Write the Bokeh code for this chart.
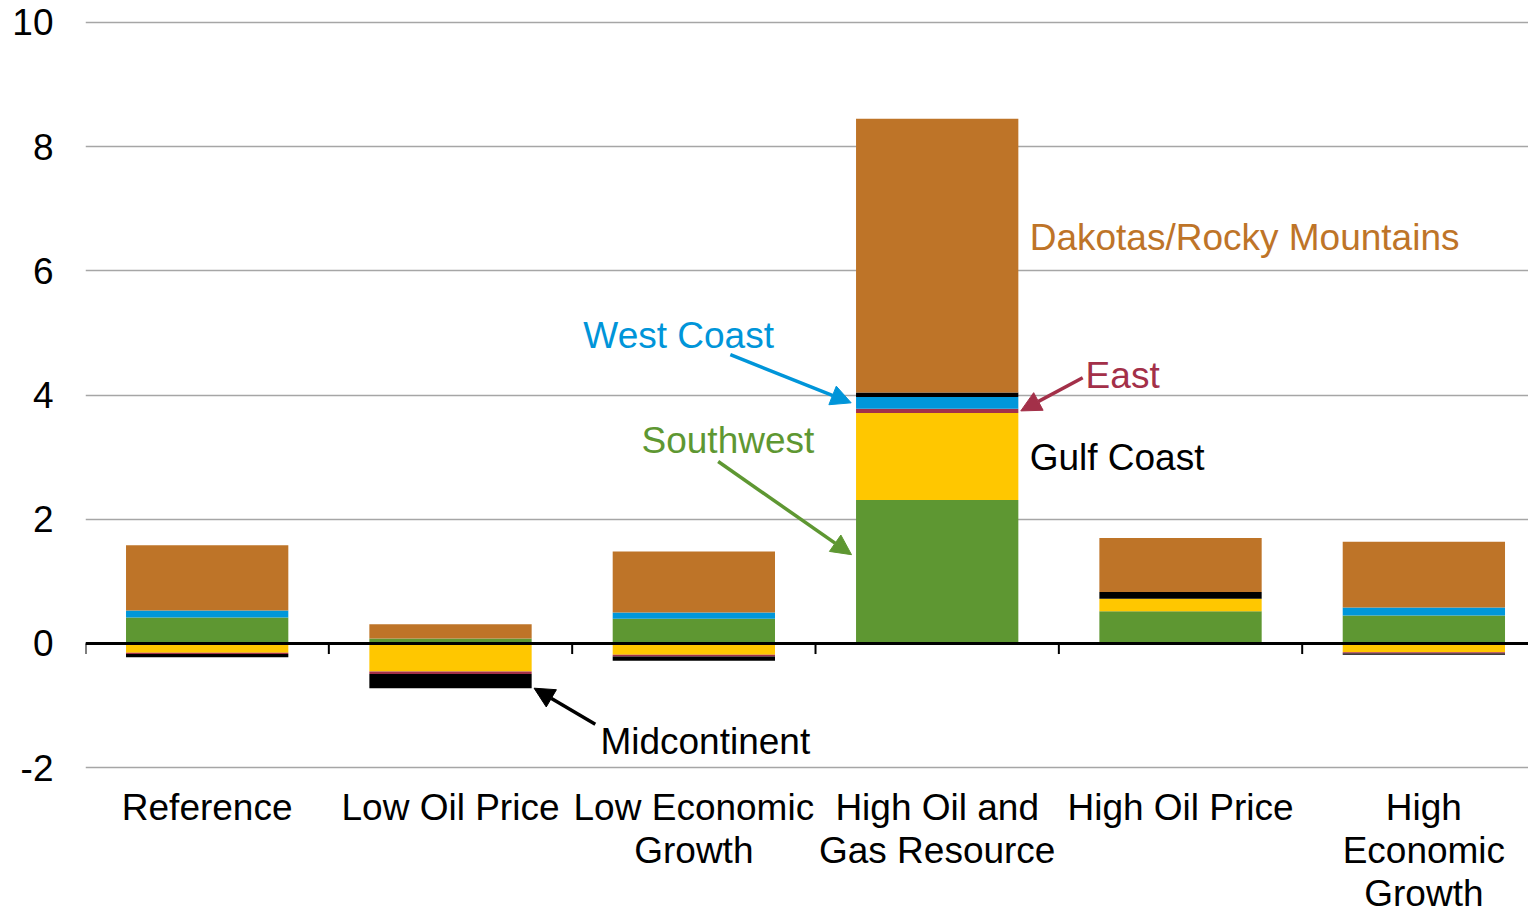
from bokeh.plotting import figure
from bokeh.models import (ColumnDataSource, Range1d, FixedTicker, Span, Label,
                          Arrow, NormalHead)
from bokeh.embed import file_html
from bokeh.resources import INLINE

# Scenarios and regional contributions (each region is one stacked series)
scenarios = ["Reference", "Low Oil Price", "Low Economic\nGrowth",
             "High Oil and\nGas Resource", "High Oil Price", "High\nEconomic\nGrowth"]
southwest = [0.42, 0.08, 0.40, 2.31, 0.52, 0.45]
gulf_coast = [-0.15, -0.45, -0.18, 1.40, 0.20, -0.14]
east = [-0.02, -0.04, -0.03, 0.07, 0.00, -0.02]
west_coast = [0.11, 0.00, 0.10, 0.19, 0.00, 0.13]
midcontinent = [-0.05, -0.23, -0.07, 0.07, 0.11, -0.02]
dakotas_rockies = [1.05, 0.23, 0.98, 4.41, 0.87, 1.06]

series = [
    ("Southwest", southwest, "#5E9732"),
    ("Gulf Coast", gulf_coast, "#FFC700"),
    ("East", east, "#A33049"),
    ("West Coast", west_coast, "#0097DA"),
    ("Midcontinent", midcontinent, "#000000"),
    ("Dakotas/Rocky Mountains", dakotas_rockies, "#BE7428"),
]

y_ticks = [-2, 0, 2, 4, 6, 8, 10]

FONT = "Liberation Sans"
FS = "37px"

# The frame runs to the bottom of the canvas; the space under -2 holds the
# scenario names, and the grid is drawn only at the fixed ticks.
p = figure(width=1528, height=911, output_backend="svg", toolbar_location=None,
           x_range=Range1d(-0.5, 5.43), y_range=Range1d(-4.316, 10.048),
           min_border_left=85, min_border_right=0, min_border_top=19,
           min_border_bottom=0)
p.outline_line_color = None
p.background_fill_color = "white"
p.border_fill_color = "white"

# Stack positives upward and negatives downward, in series order
xs = list(range(len(scenarios)))
pos_base = [0.0] * len(xs)
neg_base = [0.0] * len(xs)
tops_by_series = {}
for name, vals, color in series:
    bottoms, tops = [], []
    for i, v in enumerate(vals):
        if v >= 0:
            bottoms.append(pos_base[i])
            tops.append(pos_base[i] + v)
            pos_base[i] += v
        else:
            bottoms.append(neg_base[i])
            tops.append(neg_base[i] + v)
            neg_base[i] += v
    tops_by_series[name] = (bottoms, tops)
    src = ColumnDataSource(dict(x=xs, bottom=bottoms, top=tops))
    p.vbar(x="x", width=0.667, bottom="bottom", top="top", source=src,
           fill_color=color, line_color=None)

# Axes
p.xgrid.grid_line_color = None
p.ygrid.ticker = FixedTicker(ticks=y_ticks)
p.ygrid.grid_line_color = "#A6A6A6"
p.ygrid.grid_line_width = 1.5
p.yaxis.ticker = FixedTicker(ticks=y_ticks)
p.yaxis.major_label_overrides = {t: str(t) for t in y_ticks}
p.yaxis.axis_line_color = None
p.yaxis.major_tick_line_color = None
p.yaxis.minor_tick_line_color = None
p.yaxis.major_label_standoff = 26
p.yaxis.major_label_text_font = FONT
p.yaxis.major_label_text_font_size = FS
p.yaxis.major_label_text_color = "black"
p.xaxis.visible = False

# Scenario names under the -2 line
for i, name in enumerate(scenarios):
    p.add_layout(Label(x=i, y=-2.31, text=name, text_font=FONT, text_font_size=FS,
                       text_color="black", text_align="center", text_baseline="top",
                       text_line_height=1.05))

# Zero line with category divider ticks
p.add_layout(Span(location=0, dimension="width", line_color="black", line_width=3))
bounds = [i - 0.5 for i in xs]
p.segment(x0=bounds, y0=[0] * len(bounds), x1=bounds, y1=[-0.17] * len(bounds),
          line_color="black", line_width=2)

# Region annotations
hog = 3  # index of the High Oil and Gas Resource scenario
wc_b, wc_t = tops_by_series["West Coast"]
ea_b, ea_t = tops_by_series["East"]
half = 0.667 / 2

def note(text, x, y, color):
    p.add_layout(Label(x=x, y=y, text=text, text_font=FONT, text_font_size=FS,
                       text_color=color, text_baseline="middle", text_align="left"))

def arrow(x0, y0, x1, y1, color):
    p.add_layout(Arrow(end=NormalHead(size=20, fill_color=color, line_color=color),
                       x_start=x0, y_start=y0, x_end=x1, y_end=y1,
                       line_color=color, line_width=3.5))

note("Dakotas/Rocky Mountains", 3.38, 6.54, "#BE7428")
note("Gulf Coast", 3.38, 2.99, "black")
note("West Coast", 1.546, 4.96, "#0095D9")
arrow(2.15, 4.65, hog - half - 0.02, (wc_b[hog] + wc_t[hog]) / 2, "#0095D9")
note("East", 3.61, 4.32, "#A33049")
arrow(3.598, 4.28, hog + half + 0.01, (ea_b[hog] + ea_t[hog]) / 2, "#A33049")
note("Southwest", 1.785, 3.27, "#5E9732")
arrow(2.10, 2.93, 2.648, 1.43, "#5E9732")
note("Midcontinent", 1.616, -1.58, "black")
arrow(1.595, -1.30, 1 + half + 0.01, neg_base[1], "black")

open("out.html", "w").write(file_html(p, INLINE))
